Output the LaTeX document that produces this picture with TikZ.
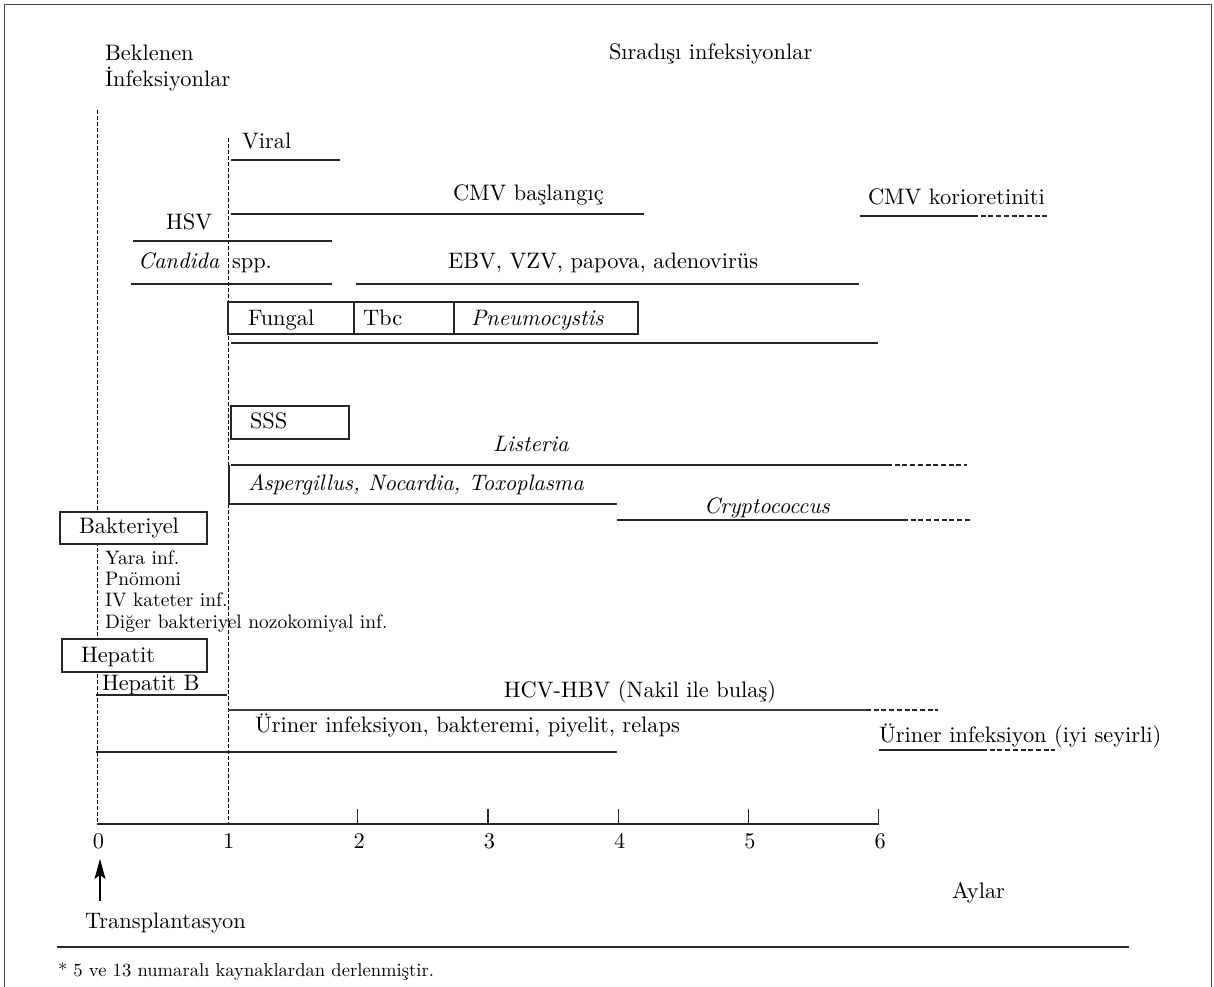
\documentclass[tikz,border=0pt]{standalone}
\usepackage{fontspec}
\setmainfont{lmroman10}[Extension=.otf, UprightFont=*-regular, ItalicFont=*-italic, BoldFont=*-bold, BoldItalicFont=*-bolditalic]
\usetikzlibrary{arrows.meta}
\begin{document}
\begin{tikzpicture}[x=1pt,y=-1pt,
  every node/.style={inner sep=0pt, outer sep=0pt, font=\fontsize{22.4}{26}\selectfont},
  lbl/.style={anchor=base west},
  itl/.style={anchor=base west, font=\fontsize{22.4}{26}\selectfont\itshape},
  smalllbl/.style={anchor=base west, font=\fontsize{19.5}{23}\selectfont},
  bar/.style={line width=1.2pt, draw=black!85},
  heavybar/.style={line width=2pt, draw=black!75},
  ext/.style={line width=1.2pt, draw=black!85, dash pattern=on 5pt off 2.7pt},
  guide/.style={line width=0.9pt, draw=black, dash pattern=on 3.5pt off 2.5pt},
  boxline/.style={line width=1.3pt, draw=black!85, fill=white},
]
\useasboundingbox (0,0) rectangle (1214,986);
% frame
\draw[line width=1.6pt, black!70] (4.5,990) -- (4.5,4.5) -- (1211.5,4.5) -- (1211.5,990);

% guide lines
\coordinate (g0top) at (97,110);
\coordinate (g0bot) at (97,824);
\coordinate (g1top) at (228,138);
\coordinate (g1bot) at (228,824);
\draw[guide] (g0top) -- (g0bot);
\draw[guide] (g1top) -- (g1bot);

% headers
\node[lbl] (bek) at (105,60) {Beklenen};
\node[lbl] (inf) at (105,86) {İnfeksiyonlar};
\node[lbl] (sira) at (609,59) {Sıradışı infeksiyonlar};

% viral
\node[lbl] (viral) at (242,148) {Viral};
\draw[bar] (231,160) -- (340,160);
\node[lbl] (cmv) at (453,200) {CMV başlangıç};
\draw[bar] (231,214) -- (644,214);
\node[lbl] (kor) at (868,204) {CMV korioretiniti};
\draw[bar] (860,216) -- (973,216);
\draw[ext] (973,216) -- (1049,216);
\node[lbl] (hsv) at (166,229) {HSV};
\draw[bar] (133,241) -- (332,241);
\node[itl] (cand) at (138,268) {Candida};
\node[lbl] (spp) at (232,268) {spp.};
\draw[bar] (131,284) -- (332,284);
\node[lbl] (ebv) at (448,268) {EBV, VZV, papova, adenovirüs};
\draw[bar] (356,284) -- (859,284);

% fungal row
\draw[boxline] (228,302) rectangle (638,334);
\draw[boxline] (354,302) -- (354,334);
\draw[boxline] (454,302) -- (454,334);
\node[lbl] (fungal) at (248,325) {Fungal};
\node[lbl] (tbc) at (363,325) {Tbc};
\node[itl] (pneu) at (471,325) {Pneumocystis};
\draw[bar] (231,343) -- (878,343);

% SSS
\draw[boxline] (231,406) rectangle (349,439);
\node[lbl] (sss) at (250,428) {SSS};
\node[itl] (list) at (493,451) {Listeria};
\draw[bar] (231,465) -- (887,465);
\draw[ext] (887,465) -- (967,465);
\draw[bar] (229,465) -- (229,504) -- (617,504);
\node[itl] (asp) at (248,490) {Aspergillus, Nocardia, Toxoplasma};
\node[itl] (crypto) at (704,513) {Cryptococcus};
\draw[bar] (617,520) -- (903,520);
\draw[ext] (903,520) -- (972,520);

% bacterial
\draw[boxline] (60,512) rectangle (207,544);
\node[lbl] (bakt) at (79,533) {Bakteriyel};
\node[smalllbl] (yara) at (105,564) {Yara inf.};
\node[smalllbl] (pno) at (105,585) {Pnömoni};
\node[smalllbl] (iv) at (105,606) {IV kateter inf.};
\node[smalllbl] (diger) at (105,628) {Diğer bakteriyel nozokomiyal inf.};

% hepatitis
\draw[boxline] (62,639) rectangle (207,672);
\node[lbl] (hep) at (81,662) {Hepatit};
\node[lbl] (hepb) at (102,690) {Hepatit B};
\draw[bar] (96,695) -- (227,695);
\node[anchor=base] (hcv) at (640,697) {HCV-HBV (Nakil ile bulaş)};
\draw[heavybar] (228,710) -- (866,710);
\draw[ext] (866,710) -- (938,710);

% urinary
\node[lbl] (ur1) at (255,732) {Üriner infeksiyon, bakteremi, piyelit, relaps};
\draw[bar] (96,752) -- (617,752);
\node[lbl] (ur2) at (879,742) {Üriner infeksiyon (iyi seyirli)};
\draw[bar] (879,750) -- (982,750);
\draw[ext] (982,750) -- (1055,750);

% axis
\draw[bar] (97,824) -- (878.8,824);
\foreach \i in {2,...,6} {
  \draw[bar] (97+130.3*\i,824) -- ++(0,-15);
}
\foreach \i in {0,...,6} {
  \node[anchor=base] (t\i) at (98.5+130.3*\i,848) {\i};
}
\coordinate (arrtail) at (100,901);
\coordinate (arrtip) at (100,859);
\draw[line width=1.1pt, -{Stealth[length=20pt,width=11pt,inset=4pt]}] (arrtail) -- (arrtip);
\node[lbl] (trans) at (85,928) {Transplantasyon};
\node[lbl] (aylar) at (952,898) {Aylar};

% footnote
\draw[line width=1.2pt, black!85] (57,947) -- (1129,947);
\node[lbl, font=\fontsize{18.6}{22}\selectfont] (foot) at (58,976) {* 5 ve 13 numaralı kaynaklardan derlenmiştir.};
\end{tikzpicture}
\end{document}
